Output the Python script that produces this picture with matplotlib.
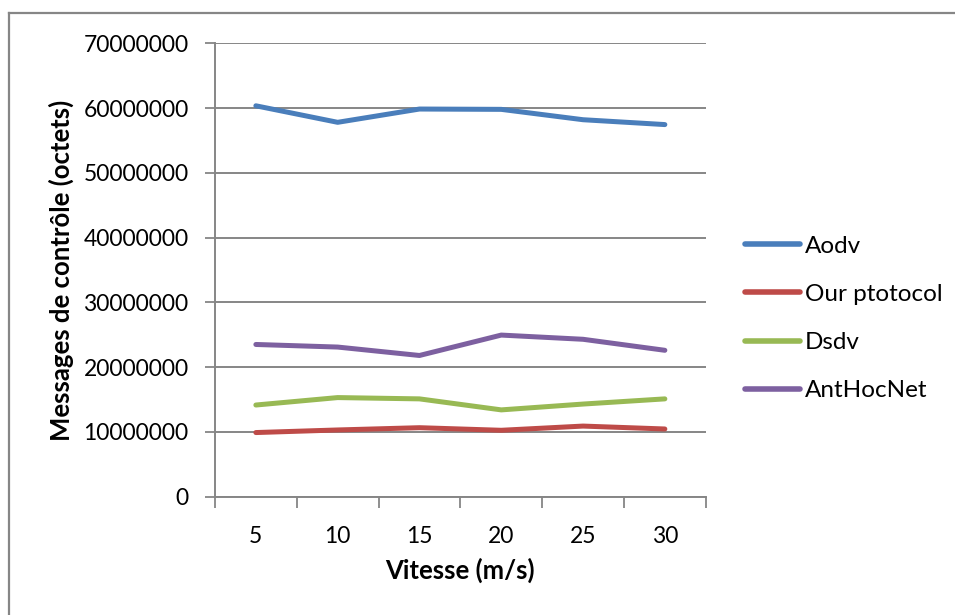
import matplotlib
matplotlib.use("Agg")
import matplotlib.pyplot as plt
from matplotlib.lines import Line2D
import numpy as np

speeds = [5, 10, 15, 20, 25, 30]
aodv = [60.35e6, 57.8e6, 59.85e6, 59.8e6, 58.2e6, 57.45e6]
our_protocol = [9.9e6, 10.3e6, 10.65e6, 10.25e6, 10.9e6, 10.45e6]
dsdv = [14.15e6, 15.3e6, 15.1e6, 13.4e6, 14.3e6, 15.1e6]
anthocnet = [23.5e6, 23.1e6, 21.8e6, 24.95e6, 24.3e6, 22.6e6]

series_names = ["Aodv", "Our ptotocol", "Dsdv", "AntHocNet"]
series_colors = ["#4A7EBB", "#BE4B48", "#98B954", "#7D60A0"]
y_ticks = [0, 10000000, 20000000, 30000000, 40000000, 50000000, 60000000, 70000000]

plt.rcParams["font.family"] = ["Lato", "DejaVu Sans"]
grid_col = "#868686"
text_col = "#000000"

fig = plt.figure(figsize=(9.55, 6.15), dpi=100)
ax = fig.add_axes([0.2251, 0.1924, 0.739 - 0.2251, 0.9296 - 0.1924])

# chart frame (top and left edges)
fx, fy = 9 / 955, 1 - 13 / 615
fig.lines.append(Line2D([fx, 1.0], [fy, fy], transform=fig.transFigure,
                        color=grid_col, linewidth=1.6))
fig.lines.append(Line2D([fx, fx], [0.0, fy], transform=fig.transFigure,
                        color=grid_col, linewidth=1.6))

x = np.arange(len(speeds))
for vals, name, col in zip([aodv, our_protocol, dsdv, anthocnet], series_names, series_colors):
    ax.plot(x, vals, color=col, linewidth=3.6, label=name, solid_capstyle="round",
            solid_joinstyle="round")

ax.set_xlim(-0.5, len(speeds) - 0.5)
ax.set_ylim(0, 70000000)
ax.set_yticks(y_ticks)
ax.set_yticklabels([str(v) for v in y_ticks], fontsize=16.5, color=text_col)
ax.set_xticks(x)
ax.set_xticklabels([str(s) for s in speeds], fontsize=16.5, color=text_col)
ax.set_xticks(np.arange(-0.5, len(speeds)), minor=True)
ax.tick_params(axis="x", which="major", length=0, pad=21)
ax.tick_params(axis="x", which="minor", length=8, width=1.3, color=grid_col, direction="out")
ax.tick_params(axis="y", length=7, width=1.3, color=grid_col, pad=12)

ax.grid(axis="y", color=grid_col, linewidth=1.4)
ax.set_axisbelow(True)
for s in ["top", "right"]:
    ax.spines[s].set_visible(False)
for s in ["left", "bottom"]:
    ax.spines[s].set_color(grid_col)
    ax.spines[s].set_linewidth(1.4)

ax.set_xlabel("Vitesse (m/s)", fontsize=18.5, fontweight="bold", labelpad=8)
ax.set_ylabel("Messages de contrôle (octets)", fontsize=18.5, fontweight="bold", labelpad=7)

leg = ax.legend(loc="center left", bbox_to_anchor=(1.08, 0.393), frameon=False,
                fontsize=17.5, handlelength=2.26, handletextpad=0.2, labelspacing=1.12,
                borderpad=0, borderaxespad=0)
for h in leg.get_lines():
    h.set_linewidth(4)

fig.savefig("out.png", dpi=100)
